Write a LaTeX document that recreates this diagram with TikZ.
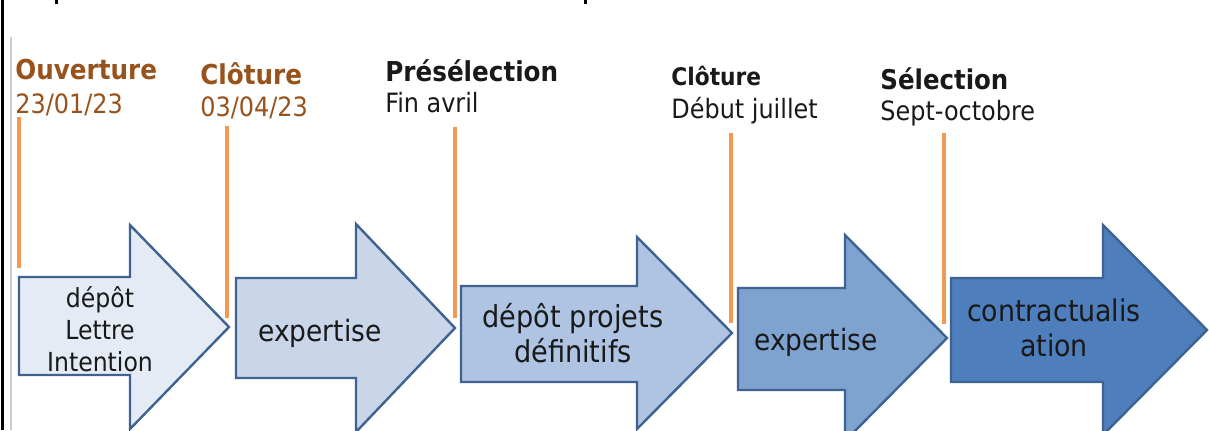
\documentclass[tikz,border=0pt]{standalone}
\usepackage{fontspec}
\setmainfont{DejaVu Sans Condensed}
\definecolor{bordfleche}{RGB}{63,99,144}
\definecolor{fondA}{RGB}{228,235,245}
\definecolor{fondB}{RGB}{201,214,234}
\definecolor{fondC}{RGB}{174,196,226}
\definecolor{fondD}{RGB}{127,163,208}
\definecolor{fondE}{RGB}{78,126,188}
\definecolor{repereorange}{RGB}{242,152,82}
\definecolor{brun}{RGB}{152,82,28}
\definecolor{encre}{RGB}{25,25,25}
\tikzset{
   fleche/.style={draw=bordfleche, line width=1.2pt, line join=miter},
   repere/.style={draw=repereorange, line width=1.6pt},
   titre/.style={anchor=base west, inner sep=0pt, font=\bfseries\fontsize{#1}{16}\selectfont},
   jour/.style={anchor=base west, inner sep=0pt, font=\fontsize{13.3}{16}\selectfont},
   etape/.style={inner sep=0pt, align=center, text=encre}
}
\begin{document}
\begin{tikzpicture}[x=0.5pt,y=-0.5pt]
   \useasboundingbox (0,0) rectangle (1209,430);
   \clip (0,0) rectangle (1209,430);
   % cadre
   \draw[line width=1.4pt] (2.5,0) -- (2.5,430);
   \draw[black!20, line width=0.75pt] (11,37) -- (11,430);
   \fill (54.5,0) rectangle (57.5,4);
   \fill (583.5,0) rectangle (586.5,4);
   % fleches
   \def \Fleches {
      a/19/130/229/277/375/225/327/fondA,
      b/236/356/455/278/378/224/328/fondB,
      c/461/637/732/286/382/237/333/fondC,
      d/738/845/947/288/390/235/338/fondD,
      e/951/1103/1207/278/382/225/330/fondE}
   \foreach \n / \xl / \xh / \xt / \yt / \yb / \yh / \ym / \c in \Fleches {
      \path[fleche, fill=\c] (\xl,\yt) -- (\xh,\yt) -- (\xh,\yh) -- (\xt,\ym)
         -- (\xh,{2*\ym-\yh}) -- (\xh,\yb) -- (\xl,\yb) -- cycle;
   }
   \node[etape, font=\fontsize{13.1}{16}\selectfont] (ea) at (100,329) {dépôt\\Lettre\\Intention};
   \node[etape, anchor=base, font=\fontsize{14.7}{17}\selectfont] (eb) at (320,341) {expertise};
   \node[etape, font=\fontsize{15.1}{17.5}\selectfont] (ec) at (573,333) {dépôt projets\\définitifs};
   \node[etape, anchor=base, font=\fontsize{14.7}{17}\selectfont] (ed) at (816,350) {expertise};
   \node[etape, font=\fontsize{14.9}{17.5}\selectfont] (ee) at (1054,328) {contractualis\\ation};
   % jalons
   \def \Jalons {
      ouv/15/79/113/13.7/brun/Ouverture/{23/01/23},
      clo/200/84/116/13.7/brun/Clôture/{03/04/23},
      pre/385/81/112/13.7/encre/Présélection/Fin avril,
      cld/671/85/118/12.1/encre/Clôture/Début juillet,
      sel/880/89/120/13.6/encre/Sélection/Sept-octobre}
   \foreach \n / \x / \yt / \yd / \s / \c / \t / \d in \Jalons {
      \node[titre=\s, text=\c] (t\n) at (\x,\yt) {\t};
      \node[jour, text=\c] (d\n) at (\x,\yd) {\d};
   }
   % traits
   \def \Traits {
      ouv/19/117/268,
      clo/227/126/318,
      pre/455/127/318,
      cld/731/133/323,
      sel/944/133/324}
   \foreach \n / \x / \yh / \yb in \Traits {
      \coordinate (h\n) at (\x,\yh);
      \coordinate (b\n) at (\x,\yb);
      \path[repere] (h\n) -- (b\n);
   }
\end{tikzpicture}
\end{document}
